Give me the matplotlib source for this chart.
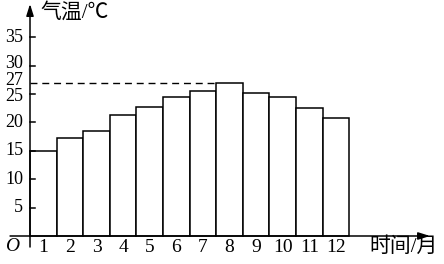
import matplotlib
matplotlib.use("Agg")
import matplotlib.pyplot as plt
import numpy as np

# 数据：每月平均气温
months = [1, 2, 3, 4, 5, 6, 7, 8, 9, 10, 11, 12]
temps = [15, 17.3, 18.4, 21.3, 22.7, 24.4, 25.6, 27, 25.2, 24.5, 22.6, 20.8]
y_ticks = [5, 10, 15, 20, 25, 27, 30, 35]
ref_temp = 27

plt.rcParams['font.family'] = ['Liberation Serif', 'Noto Sans CJK SC']

fig = plt.figure(figsize=(4.44, 2.64), dpi=100)
ax = fig.add_axes([0, 0, 1, 1])
ax.set_xlim(-1.128, 15.564)
ax.set_ylim(-4.93, 41.55)
ax.axis('off')

# 柱子
centers = np.array(months) - 0.5
ax.bar(centers, temps, width=1.0, color='white', edgecolor='black', linewidth=1.1, zorder=2)

# 坐标轴（带箭头）
arrow = dict(arrowstyle='-|>,head_width=0.22,head_length=0.7', lw=1.1, color='black',
             shrinkA=0, shrinkB=0)
ax.annotate('', xy=(15.04, 0), xytext=(-0.75, 0), arrowprops=arrow, zorder=3)
ax.annotate('', xy=(0, 40.85), xytext=(0, -1.94), arrowprops=arrow, zorder=3)

# y 刻度（30、27、25 挨得很近，标签略微错开）
label_shift = {30: 0.3, 27: 0.35, 25: -0.4}
for v in y_ticks:
    if v != ref_temp:
        ax.plot([0, 0.2], [v, v], color='black', lw=1.1, zorder=3)
    ax.text(-0.26, v + label_shift.get(v, 0), str(v), ha='right', va='center', fontsize=13)

# 27℃ 虚线
ax.plot([0, months[7] - 1], [ref_temp, ref_temp], color='black', lw=1.0,
        linestyle=(0, (5, 3.5)), zorder=1)

# x 刻度标签
for m, c in zip(months, centers):
    ax.text(c, -2.1, str(m), ha='center', va='center', fontsize=14)

ax.text(-0.68, -1.9, 'O', ha='center', va='center', fontsize=14, style='italic')
ax.text(0.38, 39.3, '气温/℃', ha='left', va='center', fontsize=15)
ax.text(12.74, -2.0, '时间/月', ha='left', va='center', fontsize=15)

fig.savefig('out.png', dpi=100)
